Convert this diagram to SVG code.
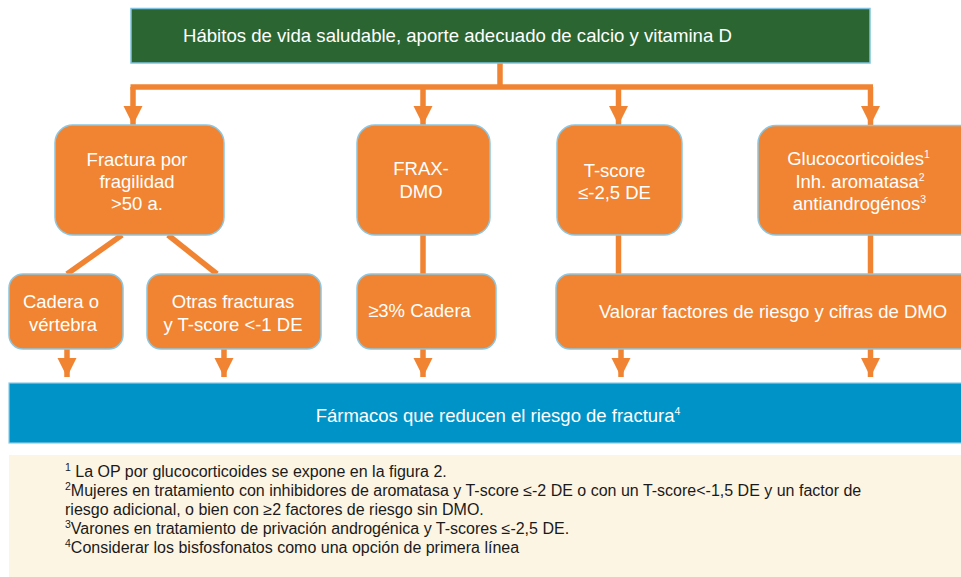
<svg xmlns="http://www.w3.org/2000/svg" width="961" height="577" viewBox="0 0 961 577">
<defs>
<style>
.box{fill:#F08432;stroke:#8CC6E0;stroke-width:1.5}
.t{font-family:"Liberation Sans",Arial,Helvetica,sans-serif;font-size:18.5px;fill:#FFFFFF;text-anchor:middle}
.fn{font-family:"Liberation Sans",Arial,Helvetica,sans-serif;font-size:16px;fill:#1A1A1A}
.sup{font-size:10.5px}
.c{fill:none;stroke:#F08432;stroke-width:5.5}
</style>
<marker id="ah" markerUnits="userSpaceOnUse" markerWidth="19" markerHeight="20" refX="19" refY="10" orient="auto">
<path d="M0,0.5 L19,10 L0,19.5 Z" fill="#F08432"/>
</marker>
</defs>
<rect width="961" height="577" fill="#FFFFFF"/>

<g id="connectors">
<path class="c" d="M500,63 V87"/>
<path class="c" d="M130.5,87 H873"/>
<path class="c" d="M133,87 V125" marker-end="url(#ah)"/>
<path class="c" d="M423,87 V125" marker-end="url(#ah)"/>
<path class="c" d="M618.5,87 V125" marker-end="url(#ah)"/>
<path class="c" d="M870.5,87 V125" marker-end="url(#ah)"/>
<path class="c" d="M122,235 L67,274"/>
<path class="c" d="M168,235 L217,274"/>
<path class="c" d="M423,235 V274"/>
<path class="c" d="M618.5,235 V274"/>
<path class="c" d="M870.5,235 V274"/>
<path class="c" d="M67,349 V377" marker-end="url(#ah)"/>
<path class="c" d="M224,349 V377" marker-end="url(#ah)"/>
<path class="c" d="M423,349 V377" marker-end="url(#ah)"/>
<path class="c" d="M621,349 V377" marker-end="url(#ah)"/>
<path class="c" d="M870.5,349 V377" marker-end="url(#ah)"/>
</g>

<g id="habitos">
<rect x="131" y="8.5" width="739" height="54.5" fill="#2B6632" stroke="#7FC3E0" stroke-width="1.5"/>
<text x="183" y="42" font-family="'Liberation Sans',Arial,Helvetica,sans-serif" font-size="18.6" fill="#FFFFFF">Hábitos de vida saludable, aporte adecuado de calcio y vitamina D</text>
</g>

<g id="fractura">
<rect class="box" x="55" y="125" width="169" height="110" rx="18"/>
<text class="t" x="137" y="165.5">Fractura por</text>
<text class="t" x="137" y="188">fragilidad</text>
<text class="t" x="137" y="210">&gt;50 a.</text>
</g>

<g id="frax">
<rect class="box" x="357" y="125" width="133" height="110" rx="18"/>
<text class="t" x="421" y="175">FRAX-</text>
<text class="t" x="421" y="197.5">DMO</text>
</g>

<g id="tscore">
<rect class="box" x="557" y="125" width="125" height="110" rx="18"/>
<text class="t" x="614.5" y="177">T-score</text>
<text class="t" x="614.5" y="199">≤-2,5 DE</text>
</g>

<g id="gluco">
<rect class="box" x="758" y="125.5" width="220" height="109.5" rx="18"/>
<text class="t" x="858.5" y="165">Glucocorticoides<tspan class="sup" dy="-7">1</tspan></text>
<text class="t" x="860" y="187.5">Inh. aromatasa<tspan class="sup" dy="-7">2</tspan></text>
<text class="t" x="859.5" y="210">antiandrogénos<tspan class="sup" dy="-7">3</tspan></text>
</g>

<g id="cadera">
<rect class="box" x="9" y="274" width="114" height="75" rx="14"/>
<text class="t" x="61" y="308">Cadera o</text>
<text class="t" x="63" y="331">vértebra</text>
</g>

<g id="otras">
<rect class="box" x="147" y="274" width="174" height="75" rx="14"/>
<text class="t" x="233" y="308">Otras fracturas</text>
<text class="t" x="233" y="331">y T-score &lt;-1 DE</text>
</g>

<g id="cadera3">
<rect class="box" x="357" y="274" width="139" height="75" rx="14"/>
<text class="t" x="419.5" y="317">≥3% Cadera</text>
</g>

<g id="valorar">
<rect class="box" x="556" y="274" width="420" height="75" rx="14"/>
<text class="t" x="773" y="318">Valorar factores de riesgo y cifras de DMO</text>
</g>

<g id="farmacos">
<rect x="9" y="383" width="960" height="60" fill="#0093C8" stroke="#8CCBE6" stroke-width="1.2"/>
<text class="t" x="498" y="421.5">Fármacos que reducen el riesgo de fractura<tspan class="sup" dy="-7">4</tspan></text>
</g>

<g id="notas">
<rect x="9" y="455" width="952" height="122" fill="#FDF5E4"/>
<text class="fn" x="65" y="476.5"><tspan class="sup" dy="-6">1</tspan><tspan dy="6"> La OP por glucocorticoides se expone en la figura 2.</tspan></text>
<text class="fn" x="65" y="495.5"><tspan class="sup" dy="-6">2</tspan><tspan dy="6">Mujeres en tratamiento con inhibidores de aromatasa y T-score ≤-2 DE o con un T-score&lt;-1,5 DE y un factor de</tspan></text>
<text class="fn" x="65" y="514.5">riesgo adicional, o bien con ≥2 factores de riesgo sin DMO.</text>
<text class="fn" x="65" y="533.5"><tspan class="sup" dy="-6">3</tspan><tspan dy="6">Varones en tratamiento de privación androgénica y T-scores ≤-2,5 DE.</tspan></text>
<text class="fn" x="65" y="553"><tspan class="sup" dy="-6">4</tspan><tspan dy="6">Considerar los bisfosfonatos como una opción de primera línea</tspan></text>
</g>
</svg>
